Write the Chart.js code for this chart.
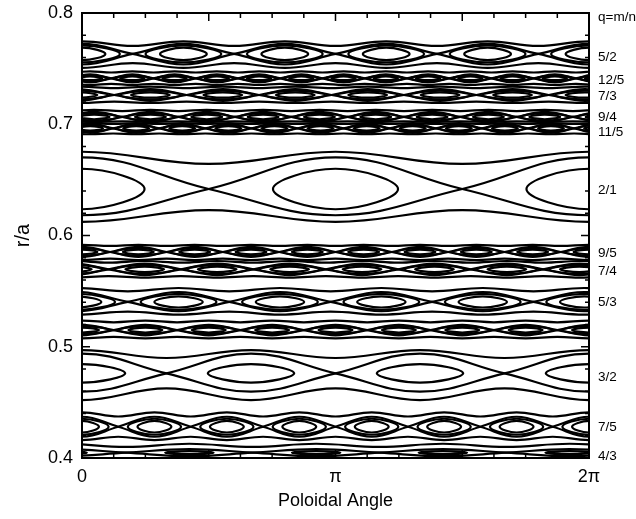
<!DOCTYPE html>
<html>
<head>
<meta charset="utf-8">
<script src="https://cdn.jsdelivr.net/npm/chart.js@4.4.1/dist/chart.umd.min.js"></script>
<style>
  html, body { margin: 0; padding: 0; background: #fff; }
  canvas { display: block; }
</style>
</head>
<body>
<canvas id="c" width="636" height="519"></canvas>
<script>
// Magnetic island chains, listed from the edge inwards (r/a decreasing)
const chainQ      = ['5/2', '12/5', '7/3', '9/4', '11/5', '2/1', '9/5', '7/4', '5/3', '8/5', '3/2', '7/5', '4/3'];
const islandCount = [5, 12, 7, 9, 11, 2, 9, 7, 5, 8, 3, 7, 4];
// radius of the X-points
const resonantR   = [0.7632, 0.7413, 0.7263, 0.7066, 0.6963, 0.6418, 0.5852, 0.5696, 0.5403, 0.5150, 0.4761, 0.4281, 0.4048];
// separatrix excursion above / below the X-point radius, at the O-points
const sepUp       = [0.0090, 0.0036, 0.0052, 0.0045, 0.0040, 0.0285, 0.0045, 0.0052, 0.0089, 0.0047, 0.0178, 0.0090, 0.0032];
const sepDown     = [0.0095, 0.0036, 0.0052, 0.0045, 0.0040, 0.0236, 0.0045, 0.0052, 0.0084, 0.0047, 0.0165, 0.0090, 0.0032];
// poloidal angle of one O-point of each chain
const oPhase      = [0.00, 0.10, -0.05, 0.15, 0.10, 0.00, 0.00, -0.12, -0.06, 0.00, 0.00, 0.00, -0.24];
// closed surfaces inside the islands: half height (r/a) and half length (rad)
const eyeHalfH    = [0.0056, 0.0017, 0.0024, 0.0021, 0.0019, 0.0182, 0.0021, 0.0024, 0.0050, 0.0022, 0.0083, 0.0052, 0.0014];
const eyeHalfLen  = [0.29, 0.15, 0.24, 0.19, 0.16, 0.775, 0.19, 0.24, 0.30, 0.21, 0.535, 0.21, 0.30];
const eye2HalfH   = [0.0076, 0.0027, 0.0040, 0.0034, 0.0030, 0, 0.0034, 0.0040, 0.0072, 0.0036, 0, 0.0072, 0];
const eye2HalfLen = [0.47, 0.22, 0.37, 0.29, 0.24, 0, 0.29, 0.37, 0.47, 0.33, 0, 0.33, 0];
// neighbouring flux surfaces: offset from the X-point radius at O- and X-point angles
const outerTopO   = [0.0113, 0.0062, 0.0076, 0.0064, 0.0047, 0.0335, 0.0064, 0.0075, 0.0125, 0.0085, 0.0209, 0.0130, 0.0080];
const outerTopX   = [0.0072, 0.0052, 0.0062, 0.0052, 0.0040, 0.0225, 0.0054, 0.0060, 0.0095, 0.0070, 0.0138, 0.0092, 0.0052];
const outerBotO   = [0.0126, 0.0060, 0.0072, 0.0046, 0.0053, 0.0295, 0.0072, 0.0075, 0.0115, 0.0074, 0.0240, 0.0120, 0.0060];
const outerBotX   = [0.0082, 0.0050, 0.0060, 0.0040, 0.0046, 0.0190, 0.0060, 0.0062, 0.0088, 0.0062, 0.0135, 0.0090, 0.0050];

// axis ticks
const rTicks        = [0.4, 0.5, 0.6, 0.7, 0.8];
const angleTicks    = [0, Math.PI, 2 * Math.PI];
const angleTickText = ['0', 'π', '2π'];
// q = m/n labels on the right-hand side
const qLabelText = ['q=m/n', '5/2', '12/5', '7/3', '9/4', '11/5', '2/1', '9/5', '7/4', '5/3', '3/2', '7/5', '4/3'];
const qLabelR    = [0.7964, 0.7604, 0.7398, 0.7254, 0.7065, 0.6930, 0.6409, 0.5843, 0.5681, 0.5402, 0.4728, 0.4279, 0.4018];

const GAP = { x: null, y: null };
const EYE_BLOCK = 8;
const LINE_W = 2.2;

// one closed contour around an O-point: B, L, T, R, B, L, T (+gap);
// the first and last segments only set the tangents and stay invisible
function addEye(list, th, r0, h, len) {
  const L = { x: th - len, y: r0 }, T = { x: th, y: r0 + h };
  const R = { x: th + len, y: r0 }, B = { x: th, y: r0 - h };
  list.push(B, L, T, R, B, L, T, GAP);
}

function lineSet(data, tension, closed) {
  const ds = {
    data,
    showLine: true,
    borderColor: '#000',
    borderWidth: LINE_W,
    pointRadius: 0,
    pointHoverRadius: 0,
    tension,
    fill: false
  };
  if (closed) {
    ds.segment = {
      borderColor: (ctx) => {
        const j = ctx.p0DataIndex % EYE_BLOCK;
        return (j === 0 || j === 5) ? 'rgba(0,0,0,0)' : '#000';
      }
    };
  }
  return ds;
}

// vertices at the O- and X-points of every chain; the curves between them are drawn by the line element
function chainDatasets(i) {
  const m = islandCount[i], r0 = resonantR[i], step = Math.PI / m, ph = oPhase[i];
  const kLo = Math.floor(-ph / step) - 2;
  const kHi = Math.ceil((2 * Math.PI - ph) / step) + 2;
  const hi = r0 + sepUp[i], lo = r0 - sepDown[i];
  const sepA = [], sepB = [], top = [], bot = [], eye = [], eye2 = [];
  for (let k = kLo; k <= kHi; k++) {
    const th = ph + k * step;
    const q = ((k % 4) + 4) % 4;
    const isO = q % 2 === 0;
    sepA.push({ x: th, y: q === 0 ? hi : q === 2 ? lo : r0 });
    sepB.push({ x: th, y: q === 0 ? lo : q === 2 ? hi : r0 });
    top.push({ x: th, y: r0 + (isO ? outerTopO[i] : outerTopX[i]) });
    bot.push({ x: th, y: r0 - (isO ? outerBotO[i] : outerBotX[i]) });
    if (isO) {
      addEye(eye, th, r0, eyeHalfH[i], eyeHalfLen[i]);
      if (eye2HalfH[i] > 0) addEye(eye2, th, r0, eye2HalfH[i], eye2HalfLen[i]);
    }
  }
  const sets = [lineSet(sepA, 0.4), lineSet(sepB, 0.4), lineSet(top, 0.4), lineSet(bot, 0.4),
                lineSet(eye, 0.42, true)];
  if (eye2.length) sets.push(lineSet(eye2, 0.42, true));
  return sets;
}

const datasets = [];
chainQ.forEach((q, i) => datasets.push(...chainDatasets(i)));

const FONT = '"Liberation Sans", Arial, Helvetica, sans-serif';

// box frame with inward ticks
const framePlugin = {
  id: 'frame',
  afterDatasetsDraw(chart) {
    const { ctx, chartArea: a, scales } = chart;
    ctx.save();
    ctx.strokeStyle = '#000';
    ctx.lineWidth = 2;
    ctx.strokeRect(a.left, a.top, a.right - a.left, a.bottom - a.top);
    ctx.lineWidth = 1.5;
    ctx.beginPath();
    for (let k = 0; k <= 16; k++) {
      const x = scales.x.getPixelForValue(k * Math.PI / 8);
      const len = k % 4 === 0 ? 8 : 5;
      ctx.moveTo(x, a.top); ctx.lineTo(x, a.top + len);
      ctx.moveTo(x, a.bottom); ctx.lineTo(x, a.bottom - len);
    }
    for (let k = 0; k <= 20; k++) {
      const y = scales.y.getPixelForValue(0.4 + k * 0.02);
      const len = k % 5 === 0 ? 8 : 4;
      ctx.moveTo(a.left, y); ctx.lineTo(a.left + len, y);
      ctx.moveTo(a.right, y); ctx.lineTo(a.right - len, y);
    }
    ctx.stroke();
    ctx.restore();
  }
};

function fixVertical(width) {
  return (axis) => {
    axis.width = width;
    axis.paddingTop = 0;
    axis.paddingBottom = 0;
  };
}

new Chart(document.getElementById('c'), {
  type: 'scatter',
  data: { datasets },
  options: {
    responsive: false,
    animation: false,
    devicePixelRatio: 1,
    layout: { padding: { top: 13, left: 0, right: 0, bottom: 0 } },
    plugins: { legend: { display: false }, tooltip: { enabled: false } },
    events: [],
    scales: {
      x: {
        type: 'linear',
        position: 'bottom',
        min: 0,
        max: 2 * Math.PI,
        grid: { display: false, drawTicks: false },
        border: { display: false },
        afterBuildTicks: (axis) => { axis.ticks = angleTicks.map(v => ({ value: v })); },
        afterFit: (axis) => { axis.height = 61; axis.paddingLeft = 0; axis.paddingRight = 0; },
        ticks: {
          autoSkip: false,
          maxRotation: 0,
          padding: 8,
          color: '#000',
          font: { family: FONT, size: 18 },
          callback: (v, i) => angleTickText[i]
        },
        title: {
          display: true,
          text: 'Poloidal Angle',
          color: '#000',
          font: { family: FONT, size: 18 },
          padding: { top: 0, bottom: 7 }
        }
      },
      y: {
        type: 'linear',
        position: 'left',
        min: 0.4,
        max: 0.8,
        grid: { display: false, drawTicks: false },
        border: { display: false },
        afterBuildTicks: (axis) => { axis.ticks = rTicks.map(v => ({ value: v })); },
        afterFit: fixVertical(82),
        ticks: {
          autoSkip: false,
          padding: 9,
          color: '#000',
          font: { family: FONT, size: 18 },
          callback: (v) => v.toFixed(1)
        },
        title: {
          display: true,
          text: 'r/a',
          color: '#000',
          font: { family: FONT, size: 20 },
          padding: { top: 11, bottom: 0 }
        }
      },
      q: {
        type: 'linear',
        position: 'right',
        min: 0.4,
        max: 0.8,
        grid: { display: false, drawTicks: false },
        border: { display: false },
        afterBuildTicks: (axis) => { axis.ticks = qLabelR.map(v => ({ value: v })); },
        afterFit: fixVertical(47),
        ticks: {
          autoSkip: false,
          padding: 9,
          color: '#000',
          font: { family: FONT, size: 13.5 },
          callback: (v, i) => qLabelText[i]
        }
      }
    }
  },
  plugins: [framePlugin]
});
</script>
</body>
</html>
